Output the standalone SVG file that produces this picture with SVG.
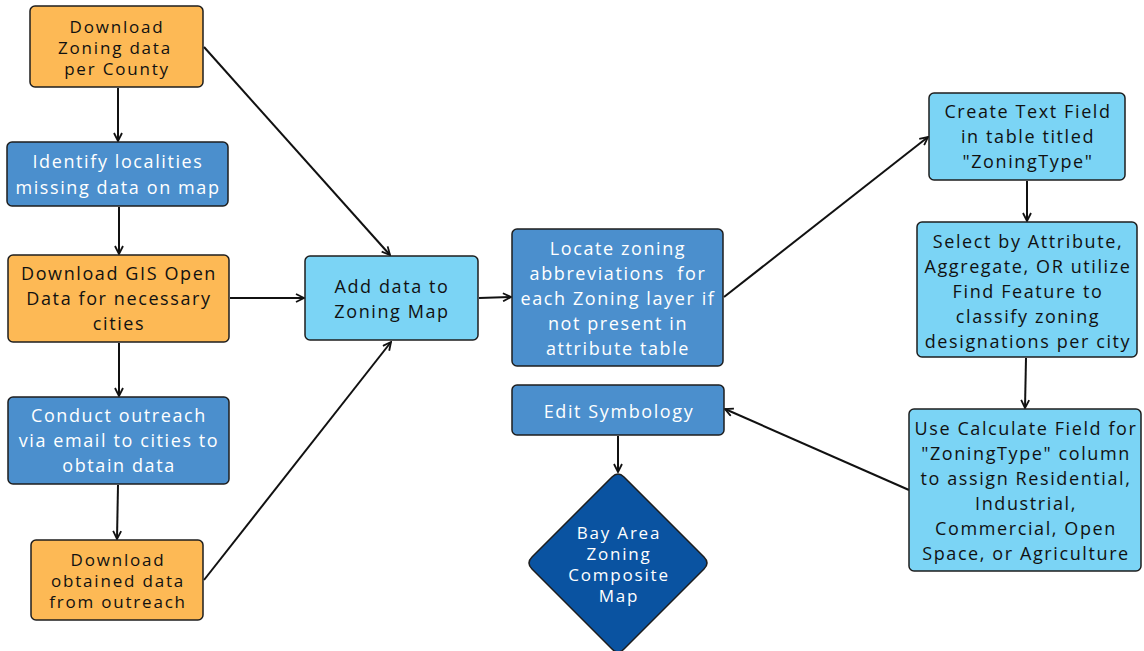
<svg xmlns="http://www.w3.org/2000/svg" width="1144" height="651" viewBox="0 0 1144 651">
<defs>
<style>
.n{stroke:#1e1e1e;stroke-width:1.5}
.o{fill:#fdb955}
.b{fill:#4b8fcd}
.l{fill:#7bd4f5}
.d{fill:#0a53a1}
text{font-family:"Open Sans","Liberation Sans",sans-serif;font-size:18px;letter-spacing:1.6px;text-anchor:middle;dominant-baseline:central}
.s text{font-size:17px;letter-spacing:1.8px}
.w{fill:#ffffff}
.k{fill:#111111}
.c{stroke:#111;stroke-width:2;fill:none;marker-end:url(#a)}
</style>
<marker id="a" viewBox="0 0 10 10" refX="9" refY="5" markerWidth="5" markerHeight="5" orient="auto-start-reverse" markerUnits="strokeWidth">
<path d="M1,1 L9,5 L1,9" fill="none" stroke="#111" stroke-width="1.8"/>
</marker>
</defs>
<rect width="1144" height="651" fill="#ffffff"/>
<g id="connectors">
<line class="c" x1="118" y1="88" x2="118" y2="141"/>
<line class="c" x1="119" y1="207" x2="119" y2="254"/>
<line class="c" x1="119" y1="343" x2="119" y2="396"/>
<line class="c" x1="118" y1="485" x2="117" y2="539"/>
<line class="c" x1="204" y1="47" x2="390" y2="255"/>
<line class="c" x1="230" y1="298" x2="304" y2="298"/>
<line class="c" x1="204" y1="580" x2="391" y2="342"/>
<line class="c" x1="479" y1="298" x2="511" y2="297"/>
<line class="c" x1="724" y1="297" x2="928" y2="137"/>
<line class="c" x1="1027" y1="181" x2="1027" y2="221"/>
<line class="c" x1="1026" y1="358" x2="1025" y2="408"/>
<line class="c" x1="909" y1="490" x2="725" y2="409"/>
<line class="c" x1="618" y1="436" x2="618" y2="472"/>
</g>
<g id="n1" class="s">
<rect class="n o" x="30" y="6" width="173" height="81" rx="5"/>
<text class="k" x="117" y="26">Download</text>
<text class="k" x="115" y="47">Zoning data</text>
<text class="k" x="117" y="68">per County</text>
</g>
<g id="n2">
<rect class="n b" x="7" y="142" width="221" height="64" rx="5"/>
<text class="w" x="118" y="161">Identify localities</text>
<text class="w" x="118" y="187">missing data on map</text>
</g>
<g id="n3">
<rect class="n o" x="8" y="255" width="221" height="87" rx="5"/>
<text class="k" x="119" y="273">Download GIS Open</text>
<text class="k" x="119" y="298">Data for necessary</text>
<text class="k" x="119" y="323">cities</text>
</g>
<g id="n4">
<rect class="n b" x="8" y="397" width="221" height="87" rx="5"/>
<text class="w" x="119" y="415">Conduct outreach</text>
<text class="w" x="119" y="440">via email to cities to</text>
<text class="w" x="119" y="465">obtain data</text>
</g>
<g id="n5" class="s">
<rect class="n o" x="31" y="540" width="172" height="80" rx="5"/>
<text class="k" x="118" y="559">Download</text>
<text class="k" x="118" y="580">obtained data</text>
<text class="k" x="118" y="601">from outreach</text>
</g>
<g id="n6">
<rect class="n l" x="305" y="256" width="173" height="84" rx="5"/>
<text class="k" x="392" y="286">Add data to</text>
<text class="k" x="392" y="311">Zoning Map</text>
</g>
<g id="n7">
<rect class="n b" x="512" y="229" width="211" height="137" rx="5"/>
<text class="w" x="618" y="248">Locate zoning</text>
<text class="w" x="618" y="273" xml:space="preserve">abbreviations  for</text>
<text class="w" x="618" y="298">each Zoning layer if</text>
<text class="w" x="618" y="323">not present in</text>
<text class="w" x="618" y="348">attribute table</text>
</g>
<g id="n8">
<rect class="n b" x="512" y="385" width="212" height="50" rx="5"/>
<text class="w" x="619" y="411">Edit Symbology</text>
</g>
<g id="n9" class="s">
<path class="n d" d="M612,477 Q618,471 624,477 L704,557 Q710,563 704,569 L624,649 Q618,655 612,649 L532,569 Q526,563 532,557 Z"/>
<text class="w" x="619" y="532">Bay Area</text>
<text class="w" x="619" y="553">Zoning</text>
<text class="w" x="619" y="574">Composite</text>
<text class="w" x="619" y="595">Map</text>
</g>
<g id="n10">
<rect class="n l" x="929" y="93" width="196" height="87" rx="5"/>
<text class="k" x="1028" y="111">Create Text Field</text>
<text class="k" x="1028" y="136">in table titled</text>
<text class="k" x="1028" y="161">"ZoningType"</text>
</g>
<g id="n11">
<rect class="n l" x="917" y="222" width="220" height="135" rx="5"/>
<text class="k" x="1028" y="241">Select by Attribute,</text>
<text class="k" x="1028" y="266">Aggregate, OR utilize</text>
<text class="k" x="1028" y="291">Find Feature to</text>
<text class="k" x="1028" y="316">classify zoning</text>
<text class="k" x="1028" y="341">designations per city</text>
</g>
<g id="n12">
<rect class="n l" x="909" y="409" width="232" height="162" rx="5"/>
<text class="k" x="1026" y="428">Use Calculate Field for</text>
<text class="k" x="1026" y="453">"ZoningType" column</text>
<text class="k" x="1026" y="478">to assign Residential,</text>
<text class="k" x="1026" y="503">Industrial,</text>
<text class="k" x="1026" y="528">Commercial, Open</text>
<text class="k" x="1026" y="553">Space, or Agriculture</text>
</g>
</svg>
